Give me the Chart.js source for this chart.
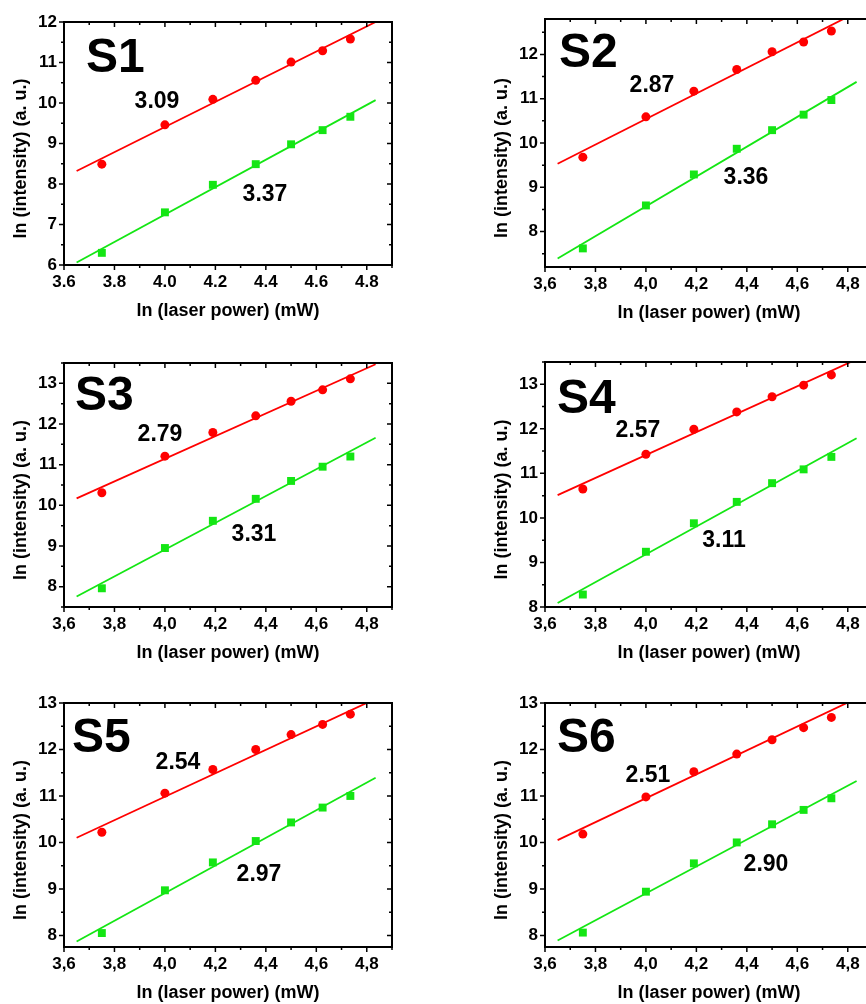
<!DOCTYPE html>
<html>
<head>
<meta charset="utf-8">
<script src="https://cdn.jsdelivr.net/npm/chart.js@4.4.0/dist/chart.umd.min.js"></script>
<style>
  html, body { margin: 0; padding: 0; background: #fff; overflow: hidden; }
  body { width: 866px; height: 1004px; position: relative; }
  canvas { position: absolute; }
</style>
</head>
<body>
<canvas id="s1"></canvas>
<canvas id="s2"></canvas>
<canvas id="s3"></canvas>
<canvas id="s4"></canvas>
<canvas id="s5"></canvas>
<canvas id="s6"></canvas>
<script>
// ln(laser power) of the 7 measurements, same for every sample
const lnPower = [3.75, 4.0, 4.19, 4.36, 4.50, 4.625, 4.735];
// x span of the linear fits
const fitX = [3.65, 4.835];
const xTickValues = [3.6, 3.8, 4.0, 4.2, 4.4, 4.6, 4.8];

// S1
const s1Red = [8.49, 9.46, 10.09, 10.56, 11.01, 11.29, 11.58];
const s1Green = [6.30, 7.30, 7.98, 8.49, 8.98, 9.33, 9.66];
const s1RedFit = [8.32, 12.0];
const s1GreenFit = [6.06, 10.07];
const s1Slopes = ['3.09', '3.37'];
const s1YTicks = [6, 7, 8, 9, 10, 11, 12];

// S2
const s2Red = [9.68, 10.59, 11.17, 11.66, 12.06, 12.28, 12.53];
const s2Green = [7.62, 8.59, 9.29, 9.87, 10.29, 10.64, 10.97];
const s2RedFit = [9.53, 12.95];
const s2GreenFit = [7.39, 11.38];
const s2Slopes = ['2.87', '3.36'];
const s2YTicks = [8, 9, 10, 11, 12];

// S3
const s3Red = [10.31, 11.21, 11.79, 12.20, 12.56, 12.84, 13.11];
const s3Green = [7.96, 8.95, 9.62, 10.16, 10.60, 10.95, 11.20];
const s3RedFit = [10.17, 13.47];
const s3GreenFit = [7.76, 11.66];
const s3Slopes = ['2.79', '3.31'];
const s3YTicks = [8, 9, 10, 11, 12, 13];

// S4
const s4Red = [10.65, 11.43, 11.99, 12.38, 12.72, 12.98, 13.21];
const s4Green = [8.28, 9.24, 9.88, 10.36, 10.78, 11.09, 11.37];
const s4RedFit = [10.51, 13.56];
const s4GreenFit = [8.09, 11.79];
const s4Slopes = ['2.57', '3.11'];
const s4YTicks = [8, 9, 10, 11, 12, 13];

// S5
const s5Red = [10.22, 11.06, 11.57, 12.0, 12.32, 12.54, 12.76];
const s5Green = [8.05, 8.97, 9.57, 10.03, 10.43, 10.75, 11.0];
const s5RedFit = [10.10, 13.09];
const s5GreenFit = [7.87, 11.39];
const s5Slopes = ['2.54', '2.97'];
const s5YTicks = [8, 9, 10, 11, 12, 13];

// S6
const s6Red = [10.18, 10.98, 11.52, 11.90, 12.21, 12.47, 12.69];
const s6Green = [8.06, 8.94, 9.55, 10.0, 10.39, 10.70, 10.95];
const s6RedFit = [10.05, 13.1];
const s6GreenFit = [7.89, 11.32];
const s6Slopes = ['2.51', '2.90'];
const s6YTicks = [8, 9, 10, 11, 12, 13];

const FONT = '"Liberation Sans", Arial, sans-serif';
const RED = '#ff0000';
const GREEN = '#14e614';

// plot = [left, top, right, bottom] of the framed area on the page
const panels = [
    { id: 's1', tag: 'S1', comma: false, red: s1Red, green: s1Green, redFit: s1RedFit, greenFit: s1GreenFit,
      slopes: s1Slopes, yTicks: s1YTicks, yMin: 6, yMax: 12, plot: [64, 22, 392, 265],
      tagPos: [22, 50], slopePos: [[93, 80], [201, 173]] },
    { id: 's2', tag: 'S2', comma: true, red: s2Red, green: s2Green, redFit: s2RedFit, greenFit: s2GreenFit,
      slopes: s2Slopes, yTicks: s2YTicks, yMin: 7.2, yMax: 12.8, plot: [545, 19, 873, 267],
      tagPos: [14, 48], slopePos: [[107, 67], [201, 159]] },
    { id: 's3', tag: 'S3', comma: true, red: s3Red, green: s3Green, redFit: s3RedFit, greenFit: s3GreenFit,
      slopes: s3Slopes, yTicks: s3YTicks, yMin: 7.5, yMax: 13.5, plot: [64, 363, 392, 607],
      tagPos: [11, 47], slopePos: [[96, 72], [190, 172]] },
    { id: 's4', tag: 'S4', comma: true, red: s4Red, green: s4Green, redFit: s4RedFit, greenFit: s4GreenFit,
      slopes: s4Slopes, yTicks: s4YTicks, yMin: 8, yMax: 13.5, plot: [545, 362, 873, 607],
      tagPos: [12, 51], slopePos: [[93, 69], [179, 179]] },
    { id: 's5', tag: 'S5', comma: true, red: s5Red, green: s5Green, redFit: s5RedFit, greenFit: s5GreenFit,
      slopes: s5Slopes, yTicks: s5YTicks, yMin: 7.75, yMax: 13, plot: [64, 703, 392, 947],
      tagPos: [8, 49], slopePos: [[114, 60], [195, 172]] },
    { id: 's6', tag: 'S6', comma: true, red: s6Red, green: s6Green, redFit: s6RedFit, greenFit: s6GreenFit,
      slopes: s6Slopes, yTicks: s6YTicks, yMin: 7.75, yMax: 13, plot: [545, 703, 873, 947],
      tagPos: [12, 49], slopePos: [[103, 73], [221, 162]] }
];

// frame, minor/mirror ticks and in-plot labels
const frameAndLabels = {
    id: 'frameAndLabels',
    afterDraw(chart) {
        const p = chart.options.plugins.frameAndLabels;
        const { ctx, chartArea: a } = chart;
        const xs = chart.scales.x;
        const ys = chart.scales.y;
        ctx.save();
        ctx.strokeStyle = '#000';
        ctx.lineWidth = 1.5;
        ctx.beginPath();
        const nx = Math.round((xs.max - xs.min) / 0.1);
        for (let i = 0; i <= nx; i++) {
            const px = xs.getPixelForValue(xs.min + i * 0.1);
            const len = i % 2 === 0 ? 5 : 3;
            ctx.moveTo(px, a.bottom); ctx.lineTo(px, a.bottom + len);
            ctx.moveTo(px, a.top); ctx.lineTo(px, a.top + len);
        }
        const y0 = Math.ceil(ys.min * 2) / 2;
        const ny = Math.floor((ys.max - y0) / 0.5 + 1e-6);
        for (let i = 0; i <= ny; i++) {
            const v = y0 + i * 0.5;
            const py = ys.getPixelForValue(v);
            const len = Number.isInteger(v) ? 5 : 3;
            ctx.moveTo(a.left, py); ctx.lineTo(a.left - len, py);
            ctx.moveTo(a.right, py); ctx.lineTo(a.right - len, py);
        }
        ctx.stroke();
        ctx.lineWidth = 2;
        ctx.strokeRect(a.left, a.top, a.right - a.left, a.bottom - a.top);

        ctx.fillStyle = '#000';
        ctx.font = 'bold 48px ' + FONT;
        ctx.textAlign = 'left';
        ctx.textBaseline = 'alphabetic';
        ctx.fillText(p.tag, a.left + p.tagPos[0], a.top + p.tagPos[1]);
        ctx.font = 'bold 23px ' + FONT;
        ctx.textAlign = 'center';
        ctx.textBaseline = 'middle';
        p.slopes.forEach((s, i) => ctx.fillText(s, a.left + p.slopePos[i][0], a.top + p.slopePos[i][1]));
        ctx.restore();
    }
};

function fmt(v, comma) {
    const s = (Math.round(v * 10) / 10).toFixed(1);
    return comma ? s.replace('.', ',') : s;
}

function buildPanel(cfg) {
    const [l, t, r, b] = cfg.plot;
    const canvas = document.getElementById(cfg.id);
    const padLeft = 64, padTop = 22, padRight = 12, padBottom = 65;
    canvas.width = r - l + padLeft + padRight;
    canvas.height = b - t + padTop + padBottom;
    canvas.style.left = (l - padLeft) + 'px';
    canvas.style.top = (t - padTop) + 'px';

    const toPoints = (ys) => lnPower.map((x, i) => ({ x: x, y: ys[i] }));
    const toFit = (ys) => fitX.map((x, i) => ({ x: x, y: ys[i] }));

    new Chart(canvas.getContext('2d'), {
        type: 'scatter',
        data: {
            datasets: [
                { data: toFit(cfg.redFit), showLine: true, borderColor: RED, borderWidth: 1.8, pointRadius: 0 },
                { data: toFit(cfg.greenFit), showLine: true, borderColor: GREEN, borderWidth: 1.8, pointRadius: 0 },
                { data: toPoints(cfg.red), pointStyle: 'circle', pointRadius: 4.5, backgroundColor: RED, borderWidth: 0 },
                { data: toPoints(cfg.green), pointStyle: 'rect', pointRadius: 5.6, backgroundColor: GREEN, borderWidth: 0 }
            ]
        },
        options: {
            responsive: false,
            animation: false,
            devicePixelRatio: 1,
            layout: { padding: { left: 0, top: padTop, right: padRight, bottom: 0 } },
            plugins: {
                legend: { display: false },
                tooltip: { enabled: false },
                frameAndLabels: { tag: cfg.tag, slopes: cfg.slopes, tagPos: cfg.tagPos, slopePos: cfg.slopePos }
            },
            scales: {
                x: {
                    type: 'linear',
                    min: 3.6,
                    max: 4.9,
                    grid: { display: false, drawTicks: false },
                    border: { display: false },
                    afterBuildTicks: (scale) => { scale.ticks = xTickValues.map(v => ({ value: v })); },
                    afterFit: (scale) => { scale.height = padBottom; },
                    ticks: {
                        padding: 7,
                        maxRotation: 0,
                        autoSkip: false,
                        color: '#000',
                        font: { family: FONT, size: 17, weight: 'bold' },
                        callback: (v) => fmt(v, cfg.comma)
                    },
                    title: {
                        display: true,
                        text: 'ln (laser power) (mW)',
                        color: '#000',
                        font: { family: FONT, size: 18, weight: 'bold' },
                        padding: { top: 0, bottom: 8 }
                    }
                },
                y: {
                    type: 'linear',
                    min: cfg.yMin,
                    max: cfg.yMax,
                    grid: { display: false, drawTicks: false },
                    border: { display: false },
                    afterBuildTicks: (scale) => { scale.ticks = cfg.yTicks.map(v => ({ value: v })); },
                    afterFit: (scale) => { scale.width = padLeft; },
                    ticks: {
                        padding: 7,
                        autoSkip: false,
                        color: '#000',
                        font: { family: FONT, size: 17, weight: 'bold' },
                        callback: (v) => String(v)
                    },
                    title: {
                        display: true,
                        text: 'ln (intensity) (a. u.)' + '\u00a0'.repeat(6),
                        color: '#000',
                        font: { family: FONT, size: 18, weight: 'bold' },
                        padding: { top: 10, bottom: 0 }
                    }
                }
            }
        },
        plugins: [frameAndLabels]
    });
}

panels.forEach(buildPanel);
</script>
</body>
</html>
